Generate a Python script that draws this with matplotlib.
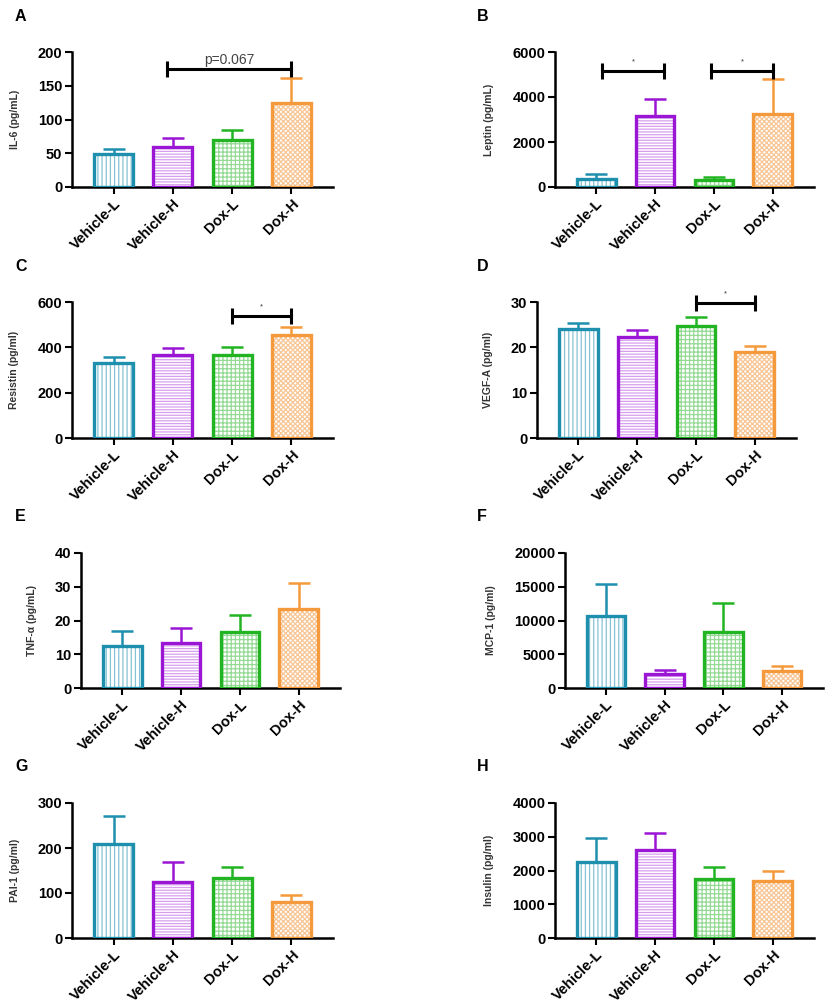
import numpy as np
import matplotlib.pyplot as plt

plt.rcParams['font.family'] = ['Liberation Sans', 'DejaVu Sans']
plt.rcParams['hatch.linewidth'] = 0.9

groups = ["Vehicle-L", "Vehicle-H", "Dox-L", "Dox-H"]
edge_colors = ["#1f8fae", "#9a16d4", "#22b422", "#f59a3c"]
hatch_colors = ["#86c2d4", "#d79fee", "#94d994", "#f8c595"]
hatches = ["||||", "------", "++++", "xxxxxxx"]

panel_letters = ["A", "B", "C", "D", "E", "F", "G", "H"]
ylabels = ["IL-6 (pg/mL)", "Leptin (pg/mL)", "Resistin (pg/ml)", "VEGF-A (pg/ml)",
           "TNF-α (pg/mL)", "MCP-1 (pg/ml)", "PAI-1 (pg/ml)", "Insulin (pg/ml)"]

il6 = [49, 59, 70, 125]
il6_err = [7, 13, 15, 37]
leptin = [370, 3140, 300, 3260]
leptin_err = [220, 750, 150, 1550]
resistin = [329, 366, 366, 454]
resistin_err = [27, 32, 35, 36]
vegfa = [24.0, 22.2, 24.7, 19.0]
vegfa_err = [1.4, 1.7, 1.9, 1.3]
tnfa = [12.3, 13.2, 16.5, 23.5]
tnfa_err = [4.7, 4.6, 5.2, 7.5]
mcp1 = [10660, 2110, 8300, 2550]
mcp1_err = [4720, 590, 4230, 640]
pai1 = [210, 124, 134, 80]
pai1_err = [61, 44, 24, 15]
insulin = [2240, 2600, 1740, 1700]
insulin_err = [710, 510, 350, 285]

means = [il6, leptin, resistin, vegfa, tnfa, mcp1, pai1, insulin]
errs = [il6_err, leptin_err, resistin_err, vegfa_err, tnfa_err, mcp1_err, pai1_err, insulin_err]
ymaxs = [200, 6000, 600, 30, 40, 20000, 300, 4000]
ysteps = [50, 2000, 200, 10, 10, 5000, 100, 1000]

# brackets per panel: (left group, right group, y, text)
brackets = {
    0: [(0.9, 3, 175, "p=0.067")],
    1: [(0.1, 1.15, 5150, "*"), (1.95, 3, 5150, "*")],
    2: [(2, 3, 540, "*")],
    3: [(2, 3, 29.8, "*")],
}

W, H = 829, 1007
# axes boxes in pixels: x0, x1, ytop, ybottom
boxes = [(72, 333, 52, 187), (555, 814, 52, 187),
         (72, 333, 302, 438), (537, 796, 302, 438),
         (81, 340, 553, 688), (565, 823, 553, 688),
         (72, 333, 803, 938), (555, 814, 803, 938)]
letter_pos = [(15, 21), (477, 21), (15, 271), (477, 271),
              (15, 521), (477, 521), (15, 771), (477, 771)]

fig = plt.figure(figsize=(W / 100, H / 100), dpi=100)
x = np.arange(len(groups))

for i in range(8):
    x0, x1, yt, yb = boxes[i]
    ax = fig.add_axes([x0 / W, 1 - yb / H, (x1 - x0) / W, (yb - yt) / H])
    for j in range(4):
        ax.bar(x[j], means[i][j], width=0.66, color="white", hatch=hatches[j],
               edgecolor=hatch_colors[j], linewidth=0, zorder=2)
        ax.bar(x[j], means[i][j], width=0.66, color="none",
               edgecolor=edge_colors[j], linewidth=2.4, zorder=3)
        ax.errorbar(x[j], means[i][j], yerr=[[0], [errs[i][j]]], fmt="none",
                    ecolor=edge_colors[j], elinewidth=1.8, capsize=8, capthick=1.8, zorder=1)
    for (a, b, yy, txt) in brackets.get(i, []):
        ax.plot([a, b], [yy, yy], color="black", lw=2.2, marker="|", markersize=11,
                markeredgewidth=2.2, clip_on=False, zorder=4)
        if txt == "*":
            ax.text((a + b) / 2, yy + ymaxs[i] * 0.04, txt, ha="center", va="bottom",
                    fontsize=5.5, color="#333333")
        else:
            ax.text((a + b) / 2, yy + ymaxs[i] * 0.015, txt, ha="center", va="bottom",
                    fontsize=10, color="#444444")

    ax.set_xlim(-0.7, 3.7)
    ax.set_ylim(0, ymaxs[i])
    ax.set_yticks(np.arange(0, ymaxs[i] + ysteps[i] / 2, ysteps[i]))
    ax.set_xticks(x)
    ax.set_xticklabels(groups, rotation=45, ha="right", rotation_mode="anchor",
                       fontsize=10.5, fontweight="bold")
    for lab in ax.get_yticklabels():
        lab.set_fontsize(10.5)
        lab.set_fontweight("bold")
    ax.set_ylabel(ylabels[i], fontsize=7.5, fontweight="bold", color="#333333", labelpad=13)
    ax.spines["top"].set_visible(False)
    ax.spines["right"].set_visible(False)
    ax.spines["left"].set_linewidth(1.8)
    ax.spines["bottom"].set_linewidth(1.8)
    ax.tick_params(axis="both", width=1.5, length=5, pad=2)
    lx, ly = letter_pos[i]
    fig.text(lx / W, 1 - ly / H, panel_letters[i], fontsize=11.5, fontweight="bold")

fig.savefig("out.png", dpi=100, facecolor="white")
